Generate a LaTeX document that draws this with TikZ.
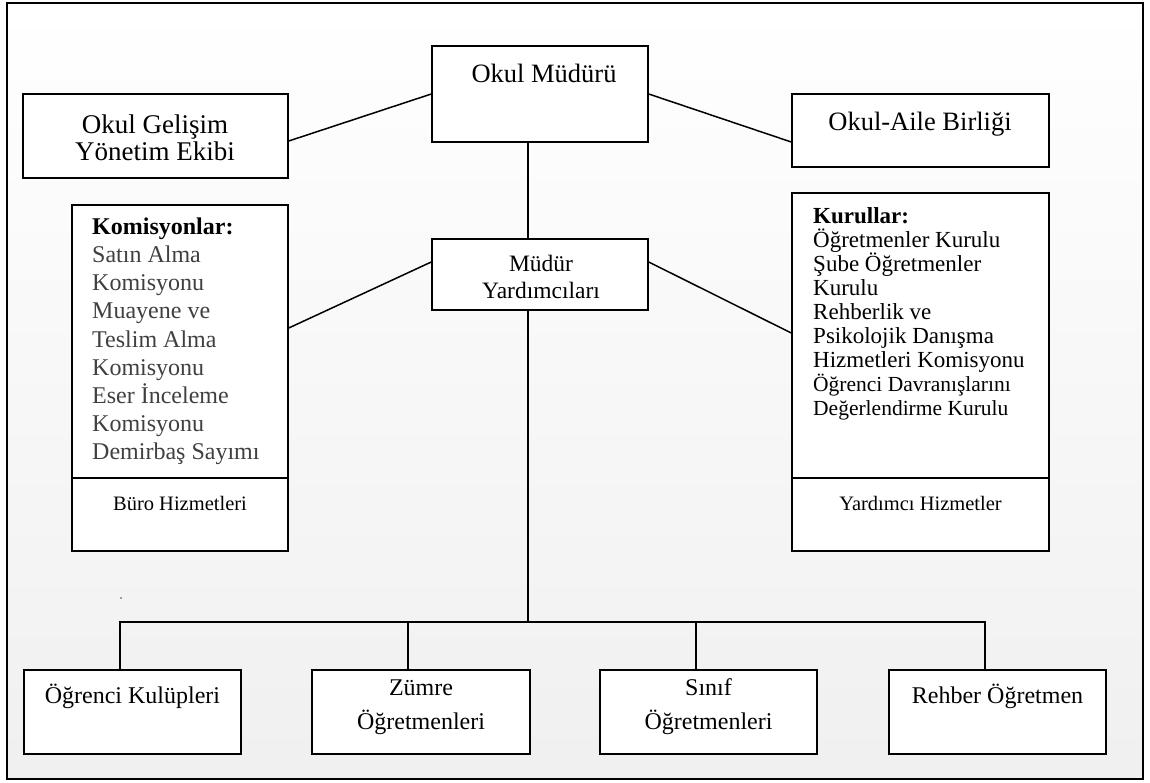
\documentclass[tikz,border=0pt]{standalone}
\usepackage{fontspec}
\setmainfont{Liberation Serif}
\newcommand{\tstrut}{\rule{0pt}{1em}}
\newcommand{\nols}{\lineskiplimit=-100pt\relax}
\begin{document}
\begin{tikzpicture}[x=1pt,y=-1pt,
  box/.style={draw=black, line width=1.5pt, fill=white, inner sep=0pt},
  txt/.style={inner sep=0pt, text=black},
  conn/.style={draw=black, line width=1.5pt}]
\useasboundingbox (0,0) rectangle (1150,782);
\fill[white] (0,0) rectangle (1150,782);
\shadedraw[top color=white, bottom color=black!6, draw=black, line width=2pt] (7,3) rectangle (1143,779);

% boxes
\node[box, minimum width=216pt, minimum height=96pt] (mudur) at (540,94) {};
\node[box, minimum width=265pt, minimum height=84pt] (gelisim) at (155.5,136) {};
\node[box, minimum width=257pt, minimum height=73pt] (aile) at (920.5,130.5) {};
\node[box, minimum width=216pt, minimum height=71pt] (yard) at (540,274.5) {};
\node[box, minimum width=216pt, minimum height=346pt] (komis) at (180,378) {};
\node[box, minimum width=257pt, minimum height=358pt] (kurul) at (920.5,372) {};
\node[box, minimum width=217pt, minimum height=84pt] (ogr) at (132.5,712) {};
\node[box, minimum width=218pt, minimum height=84pt] (zumre) at (421,712) {};
\node[box, minimum width=217pt, minimum height=84pt] (sinif) at (708.5,712) {};
\node[box, minimum width=217pt, minimum height=84pt] (rehber) at (997.5,712) {};

% dividers
\draw[line width=1.5pt] (komis.west |- 0,478) -- (komis.east |- 0,478);
\draw[line width=1.5pt] (kurul.west |- 0,478) -- (kurul.east |- 0,478);

% connectors
\coordinate (spine) at (528,622);
\draw[conn] (mudur.west) -- ([yshift=-5pt]gelisim.east);
\draw[conn] (mudur.east) -- ([yshift=-11.5pt]aile.west);
\draw[conn] (mudur.south -| spine) -- (yard.north -| spine);
\draw[conn] ([yshift=12.5pt]yard.west) -- ([yshift=50pt]komis.east);
\draw[conn] ([yshift=12.5pt]yard.east) -- ([yshift=39pt]kurul.west);
\draw[conn] (yard.south -| spine) -- (spine);
\draw[conn] ([xshift=-12.5pt]ogr.north) -- ([xshift=-12.5pt]ogr.north |- spine)
  -- ([xshift=-12.5pt]rehber.north |- spine) -- ([xshift=-12.5pt]rehber.north);
\draw[conn] ([xshift=-13pt]zumre.north) -- ([xshift=-13pt]zumre.north |- spine);
\draw[conn] ([xshift=-12.5pt]sinif.north) -- ([xshift=-12.5pt]sinif.north |- spine);

% small dot
\fill[black!70] (121,598) circle (0.8pt);

% texts
\node[txt, anchor=base, font=\fontsize{26.5}{30}\selectfont] (mudur-t) at (544,82) {Okul Müdürü};
\node[txt, anchor=north, align=center, font=\fontsize{27}{27}\selectfont\nols] (gelisim-t) at (155,106) {\tstrut Okul Gelişim\\Yönetim Ekibi};
\node[txt, anchor=base, font=\fontsize{26.5}{30}\selectfont] (aile-t) at (920,130) {Okul-Aile Birliği};
\node[txt, anchor=north, align=center, font=\fontsize{23.5}{27}\selectfont\nols] (yard-t) at (541,247.5) {\tstrut Müdür\\Yardımcıları};

\node[txt, anchor=north west, align=left, text=black!75, font=\fontsize{24}{28.2}\selectfont\nols] (komis-t) at (92,210)
  {\tstrut\textbf{\color{black}Komisyonlar:}\\Satın Alma\\Komisyonu\\Muayene ve\\Teslim Alma\\Komisyonu\\Eser İnceleme\\Komisyonu\\Demirbaş Sayımı};
\node[txt, anchor=north west, align=left, font=\fontsize{23}{24}\selectfont\nols] (kurul-t) at (813,200)
  {\tstrut\textbf{Kurullar:}\\Öğretmenler Kurulu\\Şube Öğretmenler\\Kurulu\\Rehberlik ve\\Psikolojik Danışma\\Hizmetleri Komisyonu\\{\fontsize{21.5}{24}\selectfont Öğrenci Davranışlarını}\\{\fontsize{21.5}{24}\selectfont Değerlendirme Kurulu}};

\node[txt, anchor=base, font=\fontsize{20.5}{24}\selectfont] (buro-t) at (180,510) {Büro Hizmetleri};
\node[txt, anchor=base, font=\fontsize{20.5}{24}\selectfont] (yh-t) at (920.5,510) {Yardımcı Hizmetler};

\node[txt, anchor=base, font=\fontsize{24}{34}\selectfont] (ogr-t) at (132.5,703) {Öğrenci Kulüpleri};
\node[txt, anchor=north, align=center, font=\fontsize{24}{34}\selectfont\nols] (zumre-t) at (421,671) {\tstrut Zümre\\Öğretmenleri};
\node[txt, anchor=north, align=center, font=\fontsize{24}{34}\selectfont\nols] (sinif-t) at (708.5,671) {\tstrut Sınıf\\Öğretmenleri};
\node[txt, anchor=base, font=\fontsize{24}{34}\selectfont] (rehber-t) at (997.5,703) {Rehber Öğretmen};
\end{tikzpicture}
\end{document}
